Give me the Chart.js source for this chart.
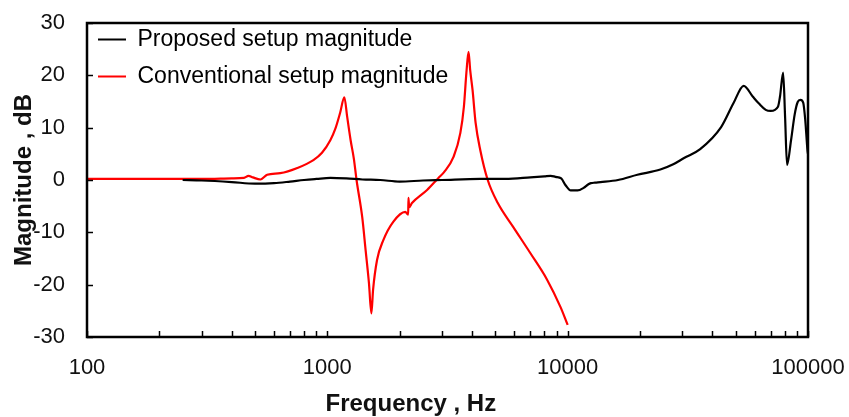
<!DOCTYPE html>
<html>
<head>
<meta charset="utf-8">
<script src="https://cdn.jsdelivr.net/npm/chart.js@4.4.1/dist/chart.umd.min.js"></script>
<style>
  html, body { margin: 0; padding: 0; background: #fff; }
  #wrap { width: 849px; height: 417px; }
</style>
</head>
<body>
<div id="wrap"><canvas id="c" width="849" height="417"></canvas></div>
<script>
// ---- data ----
const seriesNames = ['Proposed setup magnitude', 'Conventional setup magnitude'];

const proposedFreq = [250, 300, 400, 500, 600, 700, 800, 900, 1030, 1200, 1400, 1660, 2000, 2500, 3000, 4330, 5500, 7000, 8000, 8500, 8900, 9400, 9800, 10300, 11000, 11650, 12200, 12500, 13000, 13700, 16200, 19500, 24300, 27500, 30500, 35600, 43500, 49000, 54000, 59000, 62500, 66700, 70000, 75000, 76500, 78800, 80300, 81800, 85000, 88000, 90600, 93000, 95500, 97400, 99500, 100000];
const proposedDb   = [0, -0.1, -0.4, -0.7, -0.6, -0.3, 0, 0.2, 0.4, 0.3, 0.1, 0, -0.3, -0.1, 0, 0.2, 0.2, 0.5, 0.7, 0.8, 0.6, 0.3, -1.0, -2.0, -2.0, -1.5, -0.8, -0.6, -0.5, -0.4, 0, 1.0, 2.0, 3.0, 4.2, 5.9, 10.1, 14.7, 18.0, 15.9, 14.6, 13.4, 13.2, 14.0, 16.0, 20.5, 12.0, 2.9, 7.6, 12.5, 14.9, 15.3, 14.8, 11.5, 5.7, 5.0];

const conventionalFreq = [100, 150, 200, 300, 400, 450, 470, 490, 527, 562, 637, 750, 875, 950, 1029, 1080, 1130, 1177, 1210, 1250, 1290, 1323, 1397, 1443, 1490, 1525, 1550, 1610, 1710, 1880, 2110, 2170, 2175, 2190, 2250, 2600, 2900, 3060, 3350, 3577, 3700, 3790, 3868, 3930, 4020, 4140, 4330, 4650, 5120, 5940, 7000, 8200, 9340, 10000];
const conventionalDb   = [0.2, 0.2, 0.2, 0.2, 0.3, 0.4, 0.8, 0.5, 0.1, 1.0, 1.3, 2.3, 3.8, 5.2, 7.6, 9.8, 12.8, 15.8, 12.0, 7.6, 4.0, 0, -7.1, -13.4, -19.7, -25.5, -21.0, -15.3, -11.5, -8.0, -6.1, -6.6, -3.4, -5.2, -4.4, -1.9, 0.4, 1.5, 4.4, 9.0, 14.0, 20.5, 24.5, 21.0, 17.2, 10.9, 5.7, 0, -4.4, -9.0, -14.0, -19.0, -24.3, -27.7];

const xTickValues = [100,200,300,400,500,600,700,800,900,1000,2000,3000,4000,5000,6000,7000,8000,9000,10000,20000,30000,40000,50000,60000,70000,80000,90000,100000];
const xTickLabels = [100, 1000, 10000, 100000];
const yTickValues = [-30, -20, -10, 0, 10, 20, 30];

const xTitle = 'Frequency , Hz';
const yTitle = 'Magnitude , dB';

// ---- chart ----
const FONT = "'Liberation Sans', Arial, sans-serif";
const toPts = (xs, ys) => xs.map((v, i) => ({ x: v, y: ys[i] }));

// place the legend inside the plot area (top-left)
const legendInside = {
  id: 'legendInside',
  afterLayout(chart) {
    const l = chart.legend, a = chart.chartArea;
    if (!l) return;
    const h = l.bottom - l.top, w = l.right - l.left;
    l.top = a.top - 9; l.bottom = l.top + h;
    l.left = a.left - 3; l.right = l.left + w;
  }
};

const insideTicks = {
  id: 'insideTicks',
  afterDraw(chart) {
    const { ctx, chartArea: a, scales: { x, y } } = chart;
    ctx.save();
    ctx.strokeStyle = '#000';
    ctx.lineWidth = 1.5;
    x.ticks.forEach(t => {
      const px = Math.round(x.getPixelForValue(t.value)) + 0.5;
      ctx.beginPath(); ctx.moveTo(px, a.bottom); ctx.lineTo(px, a.bottom - 6); ctx.stroke();
    });
    y.ticks.forEach(t => {
      const py = Math.round(y.getPixelForValue(t.value)) + 0.5;
      ctx.beginPath(); ctx.moveTo(a.left, py); ctx.lineTo(a.left + 6, py); ctx.stroke();
    });
    ctx.lineWidth = 2.5;
    ctx.strokeRect(a.left, a.top, a.right - a.left, a.bottom - a.top);
    ctx.restore();
  }
};

new Chart(document.getElementById('c'), {
  type: 'line',
  data: {
    datasets: [
      { label: seriesNames[0], data: toPts(proposedFreq, proposedDb), borderColor: '#000000', backgroundColor: '#000000', borderWidth: 2.2, pointRadius: 0, cubicInterpolationMode: 'monotone' },
      { label: seriesNames[1], data: toPts(conventionalFreq, conventionalDb), borderColor: '#ff0000', backgroundColor: '#ff0000', borderWidth: 2.2, pointRadius: 0, cubicInterpolationMode: 'monotone' }
    ]
  },
  options: {
    responsive: false,
    animation: false,
    layout: { padding: { left: 0, top: 23, right: 41, bottom: 0 } },
    plugins: {
      tooltip: { enabled: false },
      legend: {
        position: 'chartArea',
        align: 'start',
        labels: {
          boxWidth: 28,
          boxHeight: 2,
          padding: 14,
          color: '#111',
          font: { family: FONT, size: 23 },
          generateLabels(chart) {
            return chart.data.datasets.map((d, i) => ({
              text: d.label, fillStyle: d.borderColor, strokeStyle: d.borderColor,
              lineWidth: 0, datasetIndex: i, hidden: false
            }));
          }
        }
      }
    },
    scales: {
      x: {
        type: 'logarithmic',
        min: 100, max: 100000,
        afterFit(s) { s.height = 80; s.paddingLeft = 0; s.paddingRight = 0; },
        afterBuildTicks(s) { s.ticks = xTickValues.map(v => ({ value: v })); },
        grid: { display: false, drawTicks: false },
        border: { display: false },
        ticks: {
          autoSkip: false, maxRotation: 0, minRotation: 0, padding: 18,
          color: '#111', font: { family: FONT, size: 22 },
          callback: v => xTickLabels.includes(v) ? String(v) : ''
        },
        title: { display: true, text: xTitle + '           ', color: '#111', padding: { top: 0, bottom: -2 }, font: { family: FONT, size: 24, weight: 'bold' } }
      },
      y: {
        min: -30, max: 30,
        afterFit(s) { s.width = 87; s.paddingTop = 0; s.paddingBottom = 0; },
        afterBuildTicks(s) { s.ticks = yTickValues.map(v => ({ value: v })); },
        grid: { display: false, drawTicks: false },
        border: { display: false },
        ticks: { padding: 22, color: '#111', font: { family: FONT, size: 22 } },
        title: { display: true, text: yTitle, color: '#111', padding: { top: 10, bottom: 0 }, font: { family: FONT, size: 24, weight: 'bold' } }
      }
    }
  },
  plugins: [legendInside, insideTicks]
});
</script>
</body>
</html>
